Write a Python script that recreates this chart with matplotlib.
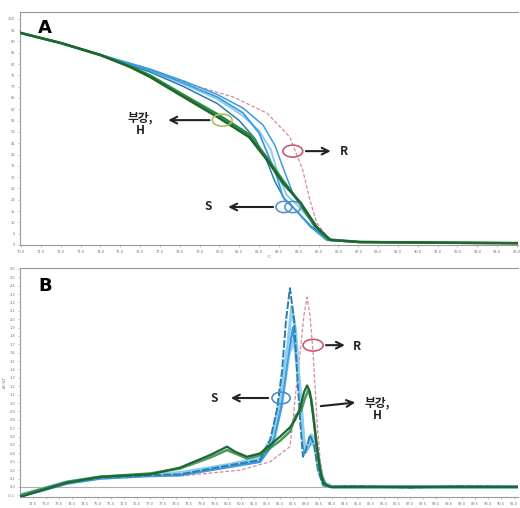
"""HRM melting curves (A) and derivative melt peaks (B)."""
import numpy as np
import matplotlib
matplotlib.use('Agg')
import matplotlib.pyplot as plt
from matplotlib.patches import Ellipse

KR = ['Noto Sans CJK KR', 'DejaVu Sans']

# ── Panel A: normalised fluorescence vs temperature ─────────────────────────
a_green1_t = [70.0, 72.0, 74.0, 75.5, 76.5, 78.2, 79.9, 81.5, 82.4, 83.2, 84.1, 84.9, 85.6, 87.1, 90.1, 95.0]
a_green1_y = [93.7, 89.3, 84.0, 78.7, 74.3, 65.4, 56.6, 47.7, 37.6, 27.4, 18.6, 8.0, 2.2, 1.3, 1.1, 0.8]
a_green2_t = [70.0, 72.0, 74.0, 75.5, 76.5, 78.2, 79.9, 81.5, 82.4, 83.2, 84.0, 84.8, 85.5, 87.1, 90.1, 95.0]
a_green2_y = [93.7, 89.3, 84.0, 79.0, 75.0, 66.3, 57.8, 48.9, 38.5, 28.5, 19.2, 8.6, 2.4, 1.3, 1.1, 0.8]

a_blue1_t = [70.0, 72.0, 74.0, 75.5, 76.5, 78.2, 79.9, 81.2, 82.0, 82.5, 82.9, 83.2, 83.7, 84.6, 85.4, 87.1, 95.0]
a_blue1_y = [93.7, 89.3, 84.0, 80.0, 77.4, 71.6, 65.4, 58.3, 49.5, 38.9, 30.1, 21.2, 16.8, 8.0, 2.2, 1.3, 0.8]
a_blue2_t = [70.0, 72.0, 74.0, 76.5, 78.2, 79.9, 81.0, 81.8, 82.4, 82.8, 83.3, 83.9, 84.6, 85.5, 87.1, 95.0]
a_blue2_y = [93.7, 89.3, 84.0, 76.5, 70.0, 62.5, 55.0, 47.0, 37.0, 28.0, 20.0, 15.0, 8.5, 2.3, 1.3, 0.8]
a_blue3_t = [70.0, 72.0, 74.0, 76.5, 78.2, 79.9, 81.2, 82.2, 82.8, 83.3, 83.7, 84.2, 84.8, 85.5, 87.1, 95.0]
a_blue3_y = [93.7, 89.3, 84.2, 77.8, 72.5, 66.5, 60.5, 53.0, 44.0, 32.0, 23.0, 16.0, 8.0, 2.5, 1.3, 0.8]
a_blue4_t = [70.0, 72.0, 74.0, 76.5, 78.2, 79.9, 81.2, 82.0, 82.6, 83.0, 83.4, 84.0, 84.8, 85.6, 87.1, 95.0]
a_blue4_y = [93.7, 89.3, 84.0, 77.0, 71.0, 64.5, 57.0, 50.5, 42.0, 30.0, 22.0, 17.0, 9.0, 2.0, 1.3, 0.8]

a_pink_t = [70.0, 72.0, 74.0, 76.5, 78.2, 80.7, 82.4, 83.55, 84.2, 84.56, 84.91, 85.56, 87.1, 95.0]
a_pink_y = [93.7, 89.3, 84.0, 77.6, 72.0, 65.4, 58.3, 47.7, 33.2, 19.9, 9.7, 2.2, 1.3, 0.8]

a_xticks = np.arange(70, 96, 1)
a_yticks = np.arange(0, 101, 5)

# ── Panel B: -dF/dT vs temperature ──────────────────────────────────────────
b_blue1_t = [72.0, 72.77, 73.81, 75.08, 75.73, 77.0, 78.15, 80.08, 81.23, 81.62, 81.88, 82.08, 82.23, 82.38,
             82.54, 82.65, 82.77, 82.88, 83.0, 83.15, 83.31, 83.46, 83.65, 83.92, 85.0, 87.0, 89.0, 91.15]
b_blue1_y = [-0.12, -0.04, 0.05, 0.11, 0.12, 0.14, 0.15, 0.26, 0.32, 0.56, 0.92, 1.39, 1.99, 2.37,
             1.99, 1.39, 0.80, 0.36, 0.44, 0.62, 0.50, 0.20, 0.02, 0.0, 0.01, -0.01, 0.01, 0.0]
b_blue2_t = [72.0, 72.77, 73.81, 75.08, 77.0, 78.15, 80.08, 81.23, 81.7, 82.0, 82.3, 82.45, 82.6, 82.75,
             82.9, 83.0, 83.1, 83.2, 83.35, 83.5, 83.7, 83.95, 87.0, 91.15]
b_blue2_y = [-0.10, -0.03, 0.06, 0.12, 0.15, 0.17, 0.27, 0.35, 0.60, 1.05, 1.70, 2.15, 1.85, 1.20,
             0.60, 0.42, 0.52, 0.58, 0.45, 0.18, 0.03, 0.0, 0.0, 0.0]
b_blue3_t = [72.0, 72.77, 73.81, 75.08, 77.0, 78.15, 80.08, 81.23, 81.7, 82.05, 82.3, 82.5, 82.7, 82.85,
             82.95, 83.1, 83.25, 83.4, 83.55, 83.75, 84.0, 87.0, 91.15]
b_blue3_y = [-0.11, -0.05, 0.04, 0.10, 0.13, 0.14, 0.24, 0.30, 0.50, 0.95, 1.55, 1.90, 1.40, 0.70,
             0.40, 0.48, 0.55, 0.42, 0.15, 0.03, 0.0, 0.0, 0.0]
b_blue4_t = [72.0, 73.81, 75.08, 77.0, 78.15, 80.08, 81.23, 81.8, 82.1, 82.35, 82.55, 82.75, 82.9, 83.05,
             83.2, 83.35, 83.5, 83.7, 84.0, 91.15]
b_blue4_y = [-0.10, 0.05, 0.11, 0.14, 0.16, 0.25, 0.31, 0.60, 1.10, 1.60, 1.75, 1.20, 0.55, 0.45,
             0.62, 0.55, 0.25, 0.05, 0.0, 0.0]

b_green1_t = [72.0, 73.81, 75.08, 77.0, 78.15, 79.31, 79.96, 80.27, 80.73, 81.23, 82.0, 82.38, 82.58, 82.77,
              82.92, 83.04, 83.15, 83.27, 83.38, 83.54, 83.65, 83.92, 91.15]
b_green1_y = [-0.12, 0.05, 0.12, 0.15, 0.23, 0.38, 0.48, 0.42, 0.36, 0.40, 0.60, 0.71, 0.80, 0.94,
              1.13, 1.21, 1.13, 0.86, 0.56, 0.20, 0.05, 0.0, 0.0]
b_green2_t = [72.0, 73.81, 75.08, 77.0, 78.15, 79.31, 79.96, 80.27, 80.73, 81.23, 82.0, 82.38, 82.6, 82.8,
              82.95, 83.08, 83.2, 83.32, 83.45, 83.6, 83.75, 84.0, 91.15]
b_green2_y = [-0.10, 0.06, 0.12, 0.16, 0.22, 0.35, 0.44, 0.40, 0.34, 0.38, 0.55, 0.66, 0.85, 0.90,
              1.05, 1.15, 1.05, 0.75, 0.40, 0.12, 0.02, 0.0, 0.0]

b_pink_t = [72.0, 73.81, 75.08, 77.0, 78.15, 80.46, 81.62, 82.38, 82.5, 82.65, 82.77, 82.92, 83.04,
            83.15, 83.27, 83.42, 83.54, 83.69, 83.92, 91.15]
b_pink_y = [-0.12, 0.05, 0.11, 0.13, 0.13, 0.20, 0.30, 0.48, 0.80, 1.27, 1.60, 2.05, 2.26,
            2.05, 1.60, 0.80, 0.32, 0.05, 0.0, 0.0]

b_xticks = np.arange(72.5, 91.1, 0.5)
b_yticks = np.arange(-0.1, 2.61, 0.1)

# ── Styles ───────────────────────────────────────────────────────────────────
BLUE = '#3d9be0'
LBLUE = '#8fcdf0'
TEAL = '#2a7fa8'
GREEN = '#2f8a43'
DGREEN = '#1f6630'
PINK = '#d88a9c'
SPINE = '#9a9a9a'

fig = plt.figure(figsize=(5.2, 5.08), dpi=100)
fig.patch.set_facecolor('white')
axA = fig.add_axes([20/520, 1 - 245/508, 498/520, 233/508])
axB = fig.add_axes([20/520, 1 - 497/508, 498/520, 229/508])


def style(ax, xt, yt, xfmt, yfmt):
    ax.set_xticks(xt)
    ax.set_yticks(yt)
    ax.set_xticklabels([xfmt.format(v) for v in xt])
    ax.set_yticklabels([yfmt.format(v) for v in yt])
    ax.tick_params(labelsize=2.6, labelcolor='#777777', length=1.5, width=0.4,
                   color=SPINE, pad=2)
    for s in ax.spines.values():
        s.set_color(SPINE)
        s.set_linewidth(0.8)
    ax.spines['right'].set_visible(False)


# Panel A curves
axA.plot(a_pink_t, a_pink_y, color=PINK, lw=0.9, ls=(0, (3, 1.5)), zorder=2)
axA.plot(a_blue4_t, a_blue4_y, color=LBLUE, lw=1.4, zorder=3)
axA.plot(a_blue3_t, a_blue3_y, color=BLUE, lw=1.1, zorder=3)
axA.plot(a_blue2_t, a_blue2_y, color=TEAL, lw=1.1, zorder=3)
axA.plot(a_blue1_t, a_blue1_y, color=BLUE, lw=1.3, zorder=3)
axA.plot(a_green2_t, a_green2_y, color=GREEN, lw=1.9, zorder=4)
axA.plot(a_green1_t, a_green1_y, color=DGREEN, lw=1.8, zorder=4)
axA.set_xlim(69.95, 95.05)
axA.set_ylim(0, 103)
style(axA, a_xticks, a_yticks, '{:.1f}', '{:.0f}')
axA.set_xlabel('°C', fontsize=3, color='#777777', labelpad=1)

# Panel B curves
axB.axhline(0, color='#b0b0b0', lw=0.8, zorder=1)
axB.plot(b_pink_t, b_pink_y, color=PINK, lw=0.9, ls=(0, (3, 1.5)), zorder=2)
axB.plot(b_blue4_t, b_blue4_y, color=LBLUE, lw=2.6, alpha=0.9, zorder=3)
axB.plot(b_blue3_t, b_blue3_y, color=BLUE, lw=1.8, zorder=3)
axB.plot(b_blue2_t, b_blue2_y, color=LBLUE, lw=2.2, zorder=3)
axB.plot(b_blue1_t, b_blue1_y, color=TEAL, lw=1.4, ls=(0, (4, 1)), zorder=3)
axB.plot(b_green2_t, b_green2_y, color=GREEN, lw=1.9, alpha=0.85, zorder=4)
axB.plot(b_green1_t, b_green1_y, color=DGREEN, lw=1.6, zorder=4)
axB.set_xlim(72.0, 91.15)
axB.set_ylim(-0.12, 2.61)
style(axB, b_xticks, b_yticks, '{:.1f}', '{:.1f}')
axB.set_ylabel('-dF/dT', fontsize=3, color='#777777', labelpad=1)

# ── Annotations ─────────────────────────────────────────────────────────────
arrow = dict(arrowstyle='->', color='#222222', lw=1.5, mutation_scale=12)
lab = dict(fontsize=8.5, fontweight='bold', color='#222222', family=KR,
           ha='center', va='center')

axA.text(0.036, 0.93, 'A', transform=axA.transAxes, fontsize=13,
         fontweight='bold', ha='left', va='center')
axA.add_patch(Ellipse((80.14, 55.2), 1.0, 5.3, fill=False, ec='#a8c060', lw=1.2, zorder=6))
axA.annotate('', xy=(77.28, 55.2), xytext=(79.64, 55.2), arrowprops=arrow)
axA.text(76.0, 53.5, '부강,\nH', linespacing=0.95, **lab)
axA.add_patch(Ellipse((83.7, 41.5), 1.0, 5.3, fill=False, ec='#c85a78', lw=1.2, zorder=6))
axA.annotate('', xy=(85.75, 41.5), xytext=(84.22, 41.5), arrowprops=arrow)
axA.text(86.3, 41.3, 'R', **lab)
axA.add_patch(Ellipse((83.25, 16.8), 0.8, 5.0, fill=False, ec='#4a8fc4', lw=1.1, zorder=6))
axA.add_patch(Ellipse((83.7, 16.8), 0.8, 5.0, fill=False, ec='#4a8fc4', lw=1.1, zorder=6))
axA.annotate('', xy=(80.3, 16.8), xytext=(82.85, 16.8), arrowprops=arrow)
axA.text(79.45, 16.8, 'S', **lab)

axB.text(0.036, 0.92, 'B', transform=axB.transAxes, fontsize=13,
         fontweight='bold', ha='left', va='center')
axB.add_patch(Ellipse((83.27, 1.69), 0.77, 0.14, fill=False, ec='#c85a78', lw=1.2, zorder=6))
axB.annotate('', xy=(84.6, 1.69), xytext=(83.66, 1.69), arrowprops=arrow)
axB.text(84.96, 1.68, 'R', **lab)
axB.add_patch(Ellipse((82.04, 1.06), 0.7, 0.14, fill=False, ec='#4a8fc4', lw=1.2, zorder=6))
axB.annotate('', xy=(80.0, 1.06), xytext=(81.65, 1.06), arrowprops=arrow)
axB.text(79.46, 1.06, 'S', **lab)
axB.annotate('', xy=(85.0, 1.01), xytext=(83.46, 0.96), arrowprops=arrow)
axB.text(85.75, 0.93, '부강,\nH', linespacing=0.95, **lab)

fig.savefig('out.png', dpi=100, facecolor='white')
